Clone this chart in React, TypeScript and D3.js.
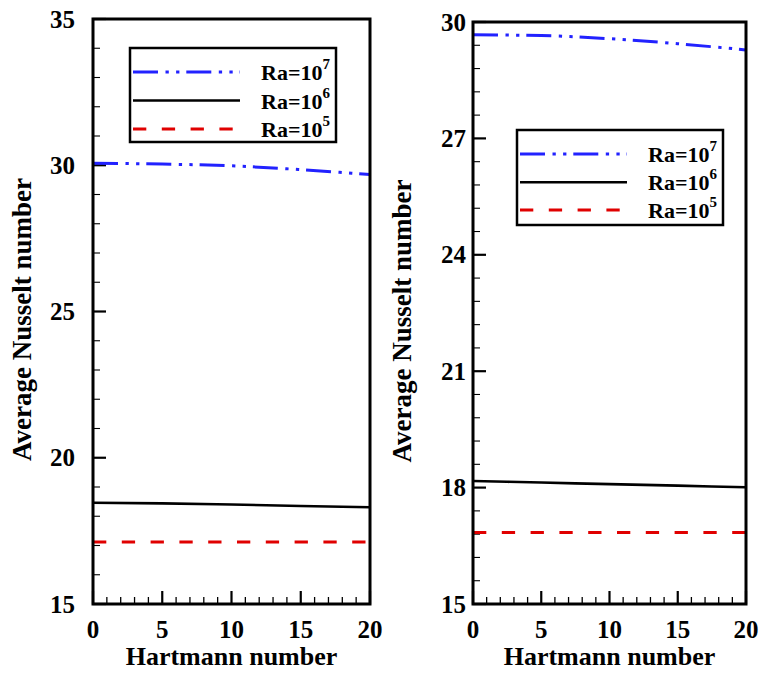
import React from "react";
import * as d3 from "d3";

const hartmann = [0, 5, 10, 15, 20];
const leftRa7 = [30.07, 30.04, 29.98, 29.85, 29.68];
const leftRa6 = [18.46, 18.44, 18.4, 18.35, 18.31];
const leftRa5 = [17.12, 17.12, 17.12, 17.12, 17.12];
const rightRa7 = [29.67, 29.65, 29.57, 29.44, 29.28];
const rightRa6 = [18.17, 18.13, 18.09, 18.05, 18.01];
const rightRa5 = [16.84, 16.84, 16.84, 16.84, 16.84];
const seriesExponents = ["7", "6", "5"];
const xMajorTicks = [0, 5, 10, 15, 20];
const leftYTicks = [15, 20, 25, 30, 35];
const rightYTicks = [15, 18, 21, 24, 27, 30];
const xTitle = "Hartmann number";
const yTitle = "Average Nusselt number";

const FONT = "Liberation Serif, Tinos, Times New Roman, DejaVu Serif, serif";

const styles = [
  { color: "#2222ff", dash: "25 7.5 3.3 7.3 3.3 6.9", width: 3 },
  { color: "#000000", dash: "none", width: 2.6 },
  { color: "#e00000", dash: "13.3 15.5", width: 3 },
];

type PanelProps = {
  left: number;
  right: number;
  top: number;
  bottom: number;
  yDomain: [number, number];
  yTicks: number[];
  yMinorStep: number;
  series: number[][];
  labelGap: number;
  titleX: number;
  legend: { x: number; y: number; w: number; h: number; rowY: number[] };
};

const txt = (size: number): React.CSSProperties => ({
  fontFamily: FONT,
  fontWeight: 700,
  fontSize: size + "px",
});

function Panel(p: PanelProps) {
  const x = d3.scaleLinear().domain([0, 20]).range([p.left, p.right]);
  const y = d3.scaleLinear().domain(p.yDomain).range([p.bottom, p.top]);
  const line = d3
    .line<number>()
    .x((_, i) => x(hartmann[i]))
    .y((d) => y(d))
    .curve(d3.curveMonotoneX);
  const xMinor = d3.range(0, 20.001, 1).filter((v) => v % 5 !== 0);
  const yMinor: number[] = [];
  for (let v = p.yDomain[0]; v <= p.yDomain[1] + 1e-6; v += p.yMinorStep) {
    const r = Math.round(v * 1000) / 1000;
    if (!p.yTicks.some((t) => Math.abs(t - r) < 1e-6)) yMinor.push(r);
  }
  const L = p.legend;
  return (
    <g>
      {xMinor.map((v) => (
        <line key={"xm" + v} x1={x(v)} x2={x(v)} y1={p.bottom} y2={p.bottom - 7} stroke="#000" strokeWidth={1.3} />
      ))}
      {yMinor.map((v) => (
        <line key={"ym" + v} x1={p.left} x2={p.left + 7} y1={y(v)} y2={y(v)} stroke="#000" strokeWidth={1.1} />
      ))}
      {xMajorTicks.map((v) => (
        <line key={"xM" + v} x1={x(v)} x2={x(v)} y1={p.bottom} y2={p.bottom - 13} stroke="#000" strokeWidth={2.2} />
      ))}
      {p.yTicks.map((v) => (
        <line key={"yM" + v} x1={p.left} x2={p.left + 13} y1={y(v)} y2={y(v)} stroke="#000" strokeWidth={2.2} />
      ))}
      {p.series.map((s, i) => (
        <path
          key={"s" + i}
          d={line(s) || ""}
          fill="none"
          stroke={styles[i].color}
          strokeWidth={styles[i].width}
          strokeDasharray={styles[i].dash}
        />
      ))}
      <rect x={p.left} y={p.top} width={p.right - p.left} height={p.bottom - p.top} fill="none" stroke="#000" strokeWidth={3} />
      {xMajorTicks.map((v) => (
        <text key={"xl" + v} x={x(v)} y={p.bottom + 34} textAnchor="middle" style={txt(25)}>
          {v}
        </text>
      ))}
      {p.yTicks.map((v) => (
        <text key={"yl" + v} x={p.left - p.labelGap} y={y(v) + 8.5} textAnchor="end" style={txt(25)}>
          {v}
        </text>
      ))}
      <text x={(p.left + p.right) / 2} y={665} textAnchor="middle" style={txt(26)}>
        {xTitle}
      </text>
      <text
        transform={`translate(${p.titleX},${(p.top + p.bottom) / 2 + 8}) rotate(-90)`}
        textAnchor="middle"
        style={txt(27)}
      >
        {yTitle}
      </text>
      <rect x={L.x} y={L.y} width={L.w} height={L.h} fill="#fff" stroke="#000" strokeWidth={2.5} />
      {seriesExponents.map((e, i) => (
        <g key={"lg" + i}>
          <line
            x1={L.x + 3}
            x2={L.x + 110}
            y1={L.rowY[i]}
            y2={L.rowY[i]}
            stroke={styles[i].color}
            strokeWidth={styles[i].width}
            strokeDasharray={styles[i].dash}
          />
          <text x={L.x + L.w - 6} y={L.rowY[i] + 8} textAnchor="end" style={txt(22)}>
            Ra=10
            <tspan style={{ fontSize: "15px" }} dy={-11}>
              {e}
            </tspan>
          </text>
        </g>
      ))}
    </g>
  );
}

export default function App() {
  return (
    <svg width={762} height={673} style={{ position: "absolute", left: 0, top: 0, background: "#fff" }}>
      <rect width={762} height={673} fill="#fff" />
      <Panel
        left={93}
        right={370}
        top={19}
        bottom={604}
        yDomain={[15, 35]}
        yTicks={leftYTicks}
        yMinorStep={1}
        series={[leftRa7, leftRa6, leftRa5]}
        labelGap={18}
        titleX={31}
        legend={{ x: 130, y: 48, w: 206, h: 94, rowY: [72, 100.5, 129] }}
      />
      <Panel
        left={473}
        right={746}
        top={22}
        bottom={604}
        yDomain={[15, 30]}
        yTicks={rightYTicks}
        yMinorStep={0.6}
        series={[rightRa7, rightRa6, rightRa5]}
        labelGap={7}
        titleX={411}
        legend={{ x: 517, y: 130, w: 206, h: 95, rowY: [154, 182.3, 210] }}
      />
    </svg>
  );
}
